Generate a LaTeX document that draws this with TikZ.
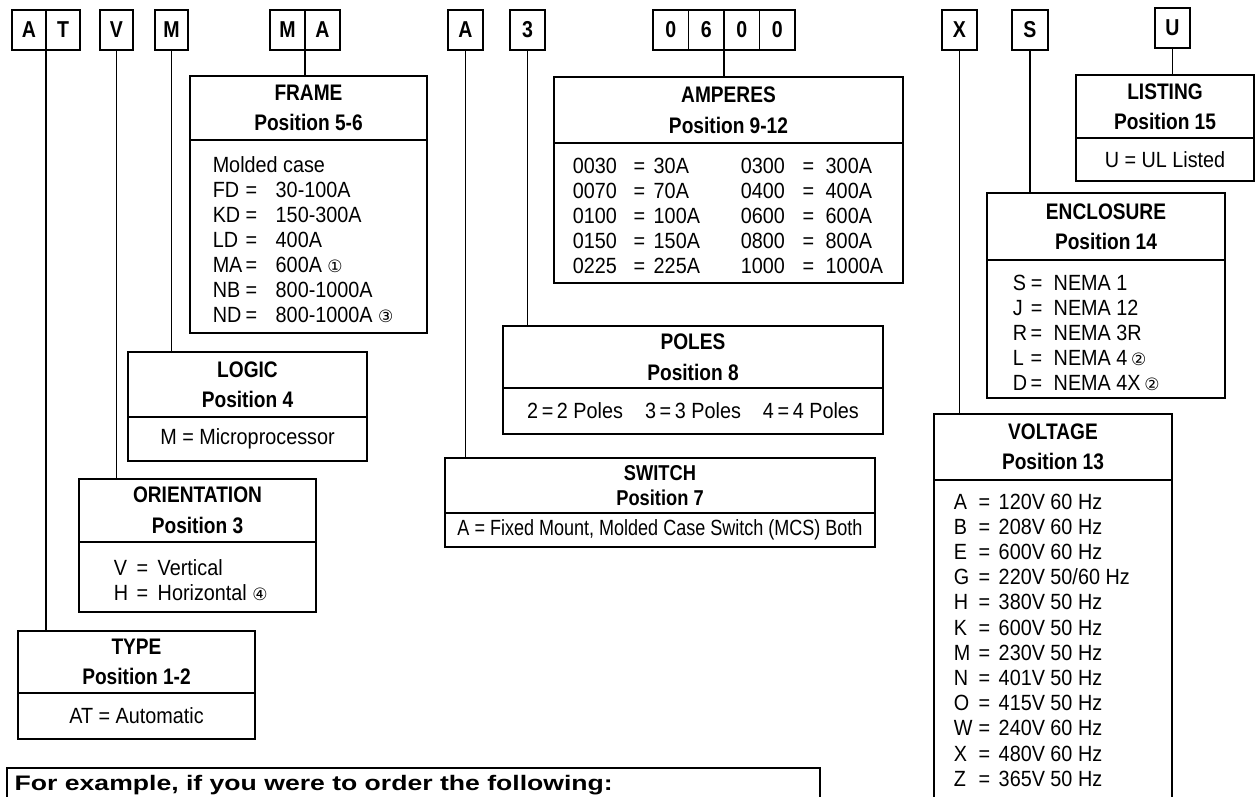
\documentclass[tikz,border=0pt]{standalone}
\usepackage{fontspec}
\usepackage{graphicx}
\setmainfont{Liberation Sans}[FakeStretch=0.9]
\newfontfamily\headfont{Liberation Sans}[FakeStretch=0.85]
\newfontfamily\plainfont{Liberation Sans}
\newfontfamily\circfont{DejaVu Sans}
\usetikzlibrary{positioning}

\newcommand\kv[2]{\makebox[\kvName][l]{#1}\makebox[\kvEq][l]{=}#2}
\newcommand\note[1]{{\circfont\fontsize{17}{17}\selectfont #1}}

\begin{document}
\begin{tikzpicture}[x=1pt, y=-1pt, line width=1.5pt,
    letter/.style = {draw, anchor=north west, minimum width=35, minimum height=40, inner sep=0pt, outer sep=0pt, font=\headfont\bfseries\fontsize{23}{23}\selectfont},
    head/.style = {draw, anchor=north west, align=center, inner sep=0pt, outer sep=0pt, font=\headfont\bfseries\fontsize{22.5}{30.5}\selectfont},
    body/.style = {draw, anchor=north west, inner sep=0pt, outer sep=0pt, font=\fontsize{22}{25}\selectfont},
    entry/.style = {anchor=base west, inner sep=0pt, font=\fontsize{22}{25}\selectfont}]
        \useasboundingbox (0,0) rectangle (1256,796);
        \clip (0,0) rectangle (1256,796);
        \fill[white] (0,0) rectangle (1256,796);

        % Code letters along the top
        \foreach \ch [count=\i] in {A,T}{
            \node[letter, minimum width=34] (code-at-\i) at ({12+34*(\i-1)}, 10) {\ch};
          }
        \node[letter, minimum width=33] (code-v) at (100,10) {V};
        \node[letter, minimum width=33] (code-m) at (155,10) {M};
        \foreach \ch [count=\i] in {M,A}{
            \node[letter] (code-ma-\i) at ({270+35*(\i-1)}, 10) {\ch};
          }
        \node[letter] (code-a) at (448,10) {A};
        \node[letter] (code-3) at (510,10) {3};
        \foreach \ch [count=\i] in {0,6,0,0}{
            \node[letter, minimum width=35.5] (code-amp-\i) at ({653+35.5*(\i-1)}, 10) {\ch};
          }
        \node[letter] (code-x) at (942,10) {X};
        \node[letter, minimum width=36] (code-s) at (1012,10) {S};
        \node[letter] (code-u) at (1155,8) {U};

        % Position boxes: header and body
        \node[head, minimum width=237, minimum height=64] (frame-head) at (190,76) {FRAME\\Position 5-6};
        \node[body, minimum width=237, minimum height=193] (frame-body) at (frame-head.south west) {};
        \node[head, minimum width=239, minimum height=65] (logic-head) at (128,352) {LOGIC\\Position 4};
        \node[body, minimum width=239, minimum height=44] (logic-body) at (logic-head.south west) {M = Microprocessor};
        \node[head, minimum width=237, minimum height=63] (orient-head) at (79,479) {ORIENTATION\\Position 3};
        \node[body, minimum width=237, minimum height=70] (orient-body) at (orient-head.south west) {};
        \node[head, minimum width=237, minimum height=62] (type-head) at (18,631) {TYPE\\Position 1-2};
        \node[body, minimum width=237, minimum height=46] (type-body) at (type-head.south west) {AT = Automatic};

        \node[head, minimum width=349, minimum height=66] (amp-head) at (554,77) {AMPERES\\Position 9-12};
        \node[body, minimum width=349, minimum height=140] (amp-body) at (amp-head.south west) {};
        \node[head, minimum width=380, minimum height=62] (poles-head) at (503,326) {POLES\\Position 8};
        \node[body, minimum width=380, minimum height=46] (poles-body) at (poles-head.south west)
            {2\,=\,2 Poles\hspace{22pt}3\,=\,3 Poles\hspace{22pt}4\,=\,4 Poles};
        \node[head, minimum width=430, minimum height=55, font=\headfont\bfseries\fontsize{21.5}{25}\selectfont] (switch-head) at (445,458) {SWITCH\\Position 7};
        \node[body, minimum width=430, minimum height=34] (switch-body) at (switch-head.south west)
            {\resizebox{405pt}{\height}{A = Fixed Mount, Molded Case Switch (MCS) Both}};

        \node[head, minimum width=178, minimum height=63] (list-head) at (1076,75) {LISTING\\Position 15};
        \node[body, minimum width=178, minimum height=43] (list-body) at (list-head.south west) {U = UL Listed};
        \node[head, minimum width=238, minimum height=67] (encl-head) at (987,193) {ENCLOSURE\\Position 14};
        \node[body, minimum width=238, minimum height=138] (encl-body) at (encl-head.south west) {};
        \node[head, minimum width=238, minimum height=66] (volt-head) at (934,414) {VOLTAGE\\Position 13};
        \node[body, minimum width=238, minimum height=420] (volt-body) at (volt-head.south west) {};

        % Body lists
        \node[entry] (frame-text) at (212,172) {\def\kvName{33pt}\def\kvEq{30pt}%
            \begin{tabular}[t]{@{}l@{}}
              Molded case\\
              \kv{FD}{30-100A}\\
              \kv{KD}{150-300A}\\
              \kv{LD}{400A}\\
              \kv{MA}{600A \note{①}}\\
              \kv{NB}{800-1000A}\\
              \kv{ND}{800-1000A \note{③}}
            \end{tabular}};
        \node[entry] (orient-text) at (113,575) {\def\kvName{23pt}\def\kvEq{21pt}%
            \begin{tabular}[t]{@{}l@{}}
              \kv{V}{Vertical}\\
              \kv{H}{Horizontal \note{④}}
            \end{tabular}};
        \node[entry] (amp-text-1) at (572,173) {\def\kvName{61pt}\def\kvEq{20pt}%
            \begin{tabular}[t]{@{}l@{}}
              \kv{0030}{30A}\\ \kv{0070}{70A}\\ \kv{0100}{100A}\\ \kv{0150}{150A}\\ \kv{0225}{225A}
            \end{tabular}};
        \node[entry] (amp-text-2) at (740,173) {\def\kvName{62pt}\def\kvEq{23pt}%
            \begin{tabular}[t]{@{}l@{}}
              \kv{0300}{300A}\\ \kv{0400}{400A}\\ \kv{0600}{600A}\\ \kv{0800}{800A}\\ \kv{1000}{1000A}
            \end{tabular}};
        \node[entry] (encl-text) at (1012,290) {\def\kvName{18pt}\def\kvEq{23pt}%
            \begin{tabular}[t]{@{}l@{}}
              \kv{S}{NEMA 1}\\
              \kv{J}{NEMA 12}\\
              \kv{R}{NEMA 3R}\\
              \kv{L}{NEMA 4\,\note{②}}\\
              \kv{D}{NEMA 4X\,\note{②}}
            \end{tabular}};
        \node[entry, font=\fontsize{22}{25.2}\selectfont] (volt-text) at (953,509) {\def\kvName{25pt}\def\kvEq{20pt}%
            \begin{tabular}[t]{@{}l@{}}
              \kv{A}{120V 60 Hz}\\
              \kv{B}{208V 60 Hz}\\
              \kv{E}{600V 60 Hz}\\
              \kv{G}{220V 50/60 Hz}\\
              \kv{H}{380V 50 Hz}\\
              \kv{K}{600V 50 Hz}\\
              \kv{M}{230V 50 Hz}\\
              \kv{N}{401V 50 Hz}\\
              \kv{O}{415V 50 Hz}\\
              \kv{W}{240V 60 Hz}\\
              \kv{X}{480V 60 Hz}\\
              \kv{Z}{365V 50 Hz}
            \end{tabular}};

        % Example box at the bottom
        \node[body, minimum width=813, minimum height=60] (example-box) at (7,768) {};
        \node[entry] (example-text) at (14,790)
            {\resizebox{598pt}{\height}{\plainfont\bfseries\fontsize{21}{21}\selectfont For example, if you were to order the following:}};

        % Connections from code letters to their boxes
        \draw (code-at-1.south east) -- (code-at-1.south east |- type-head.north);
        \draw (code-v.south) -- (code-v.south |- orient-head.north);
        \draw (code-m.south) -- (code-m.south |- logic-head.north);
        \draw (code-ma-1.south east) -- (code-ma-1.south east |- frame-head.north);
        \draw (code-a.south) -- (code-a.south |- switch-head.north);
        \draw (code-3.south) -- (code-3.south |- poles-head.north);
        \draw (code-amp-2.south east) -- (code-amp-2.south east |- amp-head.north);
        \draw (code-x.south) -- (code-x.south |- volt-head.north);
        \draw (code-s.south) -- (code-s.south |- encl-head.north);
        \draw (code-u.south) -- (code-u.south |- list-head.north);
      \end{tikzpicture}
\end{document}
